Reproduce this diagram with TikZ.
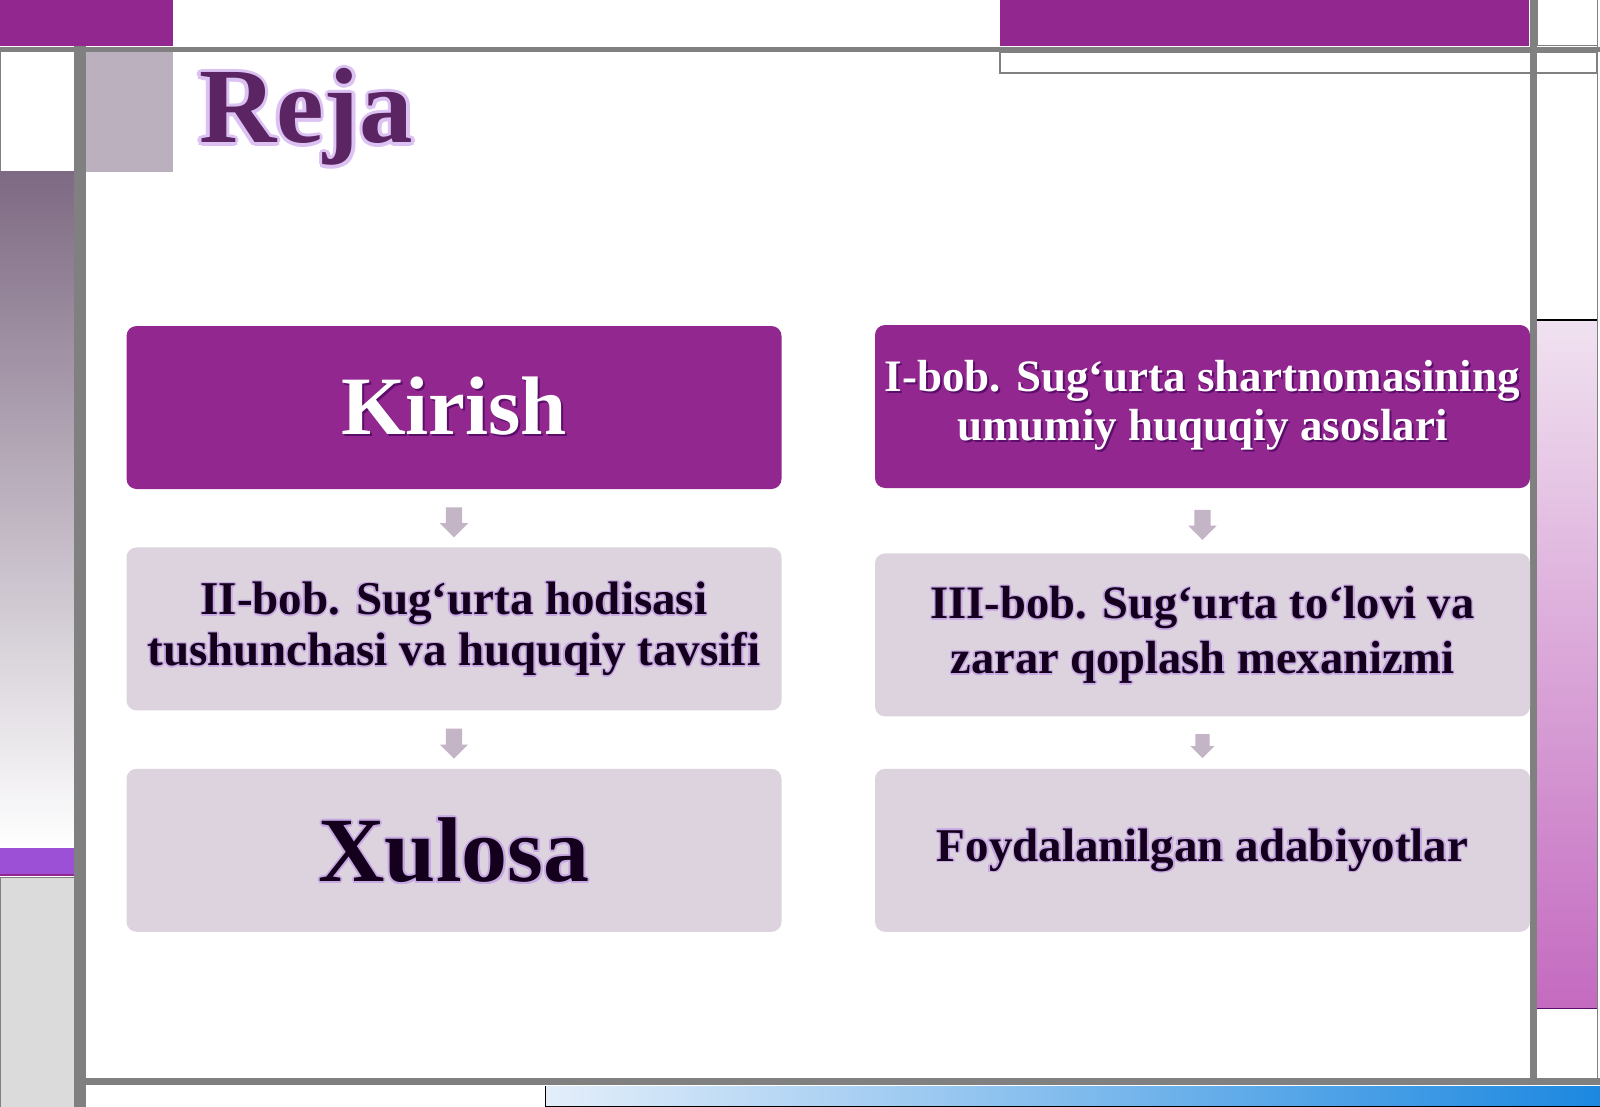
\documentclass[tikz,border=0pt]{standalone}
\usepackage{fontspec}
\setmainfont{Liberation Serif}
\usetikzlibrary{positioning,calc,shapes.arrows}

\definecolor{plum}{HTML}{92278F}
\definecolor{lilac}{HTML}{DDD3DF}
\definecolor{rejaink}{HTML}{5B2463}
\definecolor{rejaglow}{HTML}{DCC2F2}
\definecolor{framegray}{HTML}{808080}
\definecolor{arrowgray}{HTML}{C4B5C6}
\definecolor{squaregray}{HTML}{BBB0BD}
\definecolor{textink}{HTML}{14001C}
\definecolor{textglow}{HTML}{C7A8E2}
\definecolor{shadowplum}{HTML}{5A0E6A}
\definecolor{mauvetop}{HTML}{7E6A83}
\definecolor{bandviolet}{HTML}{9B50D6}
\definecolor{pinktop}{HTML}{F0E2F0}
\definecolor{pinkbottom}{HTML}{C46AC0}
\definecolor{skyleft}{HTML}{E4EEFA}
\definecolor{skyright}{HTML}{1C88E0}

% text with a soft halo round it
\newcommand\halo[3]{%
  \leavevmode
  \foreach \hx/\hy in {1/0,-1/0,0/1,0/-1,0.7/0.7,-0.7/0.7,0.7/-0.7,-0.7/-0.7}{%
    \rlap{\kern\hx\dimexpr#2\relax\raisebox{\hy\dimexpr#2\relax}{\textcolor{#1}{#3}}}}%
  #3}
% text with a drop shadow
\newcommand\dropped[2]{%
  \leavevmode\rlap{\kern2pt\raisebox{-2pt}{\textcolor{#1}{#2}}}#2}

\begin{document}
\begin{tikzpicture}[x=1pt,y=-1pt,
  plan node/.style={rectangle,rounded corners=10pt,minimum width=655pt,minimum height=163pt,inner sep=0pt,align=center},
  head node/.style={plan node,fill=plum,text=white},
  sub node/.style={plan node,fill=lilac,text=textink},
  down node/.style={single arrow,shape border rotate=270,fill=arrowgray,minimum height=30pt,inner sep=8pt,single arrow head extend=6pt},
  gray bar/.style={draw=framegray,line width=#1},gray bar/.default=6pt]

  \useasboundingbox (0,0) rectangle (1600,1107);
  \fill[white] (0,0) rectangle (1600,1107);

  % frame
  \fill[plum] (0,0) rectangle (173,46);
  \fill[plum] (1000,0) rectangle (1529,46);
  \draw[framegray,line width=1.5pt,fill=white] (1000,52) rectangle (1597,73);
  \draw[framegray,line width=1pt] (1537,0) rectangle (1597,46);
  \shade[top color=pinktop,bottom color=pinkbottom] (1537,320) rectangle (1597,1008);
  \draw[black,line width=1.5pt] (1537,320) -- (1597,320);
  \draw[shadowplum,line width=1pt] (1537,1008) -- (1597,1008);
  \draw[framegray,line width=1pt] (1597,46) -- (1597,1078);
  \draw[framegray,line width=1pt,fill=white] (0,52) rectangle (74,172);
  \shade[top color=mauvetop,bottom color=white] (0,172) rectangle (74,848);
  \fill[bandviolet] (0,848) rectangle (74,875);
  \draw[plum,line width=1.5pt] (0,875) -- (74,875);
  \draw[framegray,line width=0.8pt,fill=black!14] (0,877) rectangle (74,1107);
  \fill[squaregray] (86,52) rectangle (173,172);
  \shade[left color=skyleft,right color=skyright] (545,1086) rectangle (1600,1107);
  \draw[black,line width=1pt] (545,1086) -- (545,1106) -- (1600,1106);
  \draw[gray bar=5.5pt] (0,49.5) -- (1600,49.5);
  \draw[gray bar=12pt] (80,46) -- (80,1107);
  \draw[gray bar=7pt] (1533.5,0) -- (1533.5,1085);
  \draw[gray bar=7pt] (74,1081.5) -- (1600,1081.5);

  % title
  \node[anchor=base west,inner sep=0pt,text=rejaink,font=\bfseries\fontsize{107}{110}\selectfont] (reja) at (199,143) {\halo{rejaglow}{3.5pt}{Reja}};

  % plan boxes
  \node[head node,font=\bfseries\fontsize{83}{88}\selectfont] (kirish) at (454,407.5) {\dropped{shadowplum}{Kirish}};
  \node[sub node,font=\bfseries\fontsize{47}{51}\selectfont] (bob2) [below=58pt of kirish] {\halo{textglow}{1.5pt}{II-bob. Sug‘urta hodisasi}\\\halo{textglow}{1.5pt}{tushunchasi va huquqiy tavsifi}};
  \node[sub node,font=\bfseries\fontsize{92}{96}\selectfont] (xulosa) [below=58pt of bob2] {\halo{textglow}{2pt}{Xulosa}};

  \node[head node,font=\bfseries\fontsize{45}{49}\selectfont] (bob1) at (1202.5,406.5) {\dropped{shadowplum}{I-bob. Sug‘urta shartnomasining}\\\dropped{shadowplum}{umumiy huquqiy asoslari}};
  \node[sub node,font=\bfseries\fontsize{46.5}{55}\selectfont] (bob3) [below=65pt of bob1] {\halo{textglow}{1.5pt}{III-bob. Sug‘urta to‘lovi va}\\\halo{textglow}{1.5pt}{zarar qoplash mexanizmi}};
  \node[sub node,font=\bfseries\fontsize{47}{52}\selectfont] (adab) [below=52pt of bob3] {\halo{textglow}{1.5pt}{Foydalanilgan adabiyotlar}};

  % arrows between the boxes
  \node[down node] (a1) at ($(kirish.south)!0.5!(bob2.north)$) {};
  \node[down node] (a2) at ($(bob2.south)!0.5!(xulosa.north)$) {};
  \node[down node] (a3) at ($(bob1.south)!0.5!(bob3.north)$) {};
  \node[down node,minimum height=24pt,inner sep=7pt,single arrow head extend=5pt] (a4) at ($(bob3.south)!0.5!(adab.north)$) {};
\end{tikzpicture}
\end{document}
